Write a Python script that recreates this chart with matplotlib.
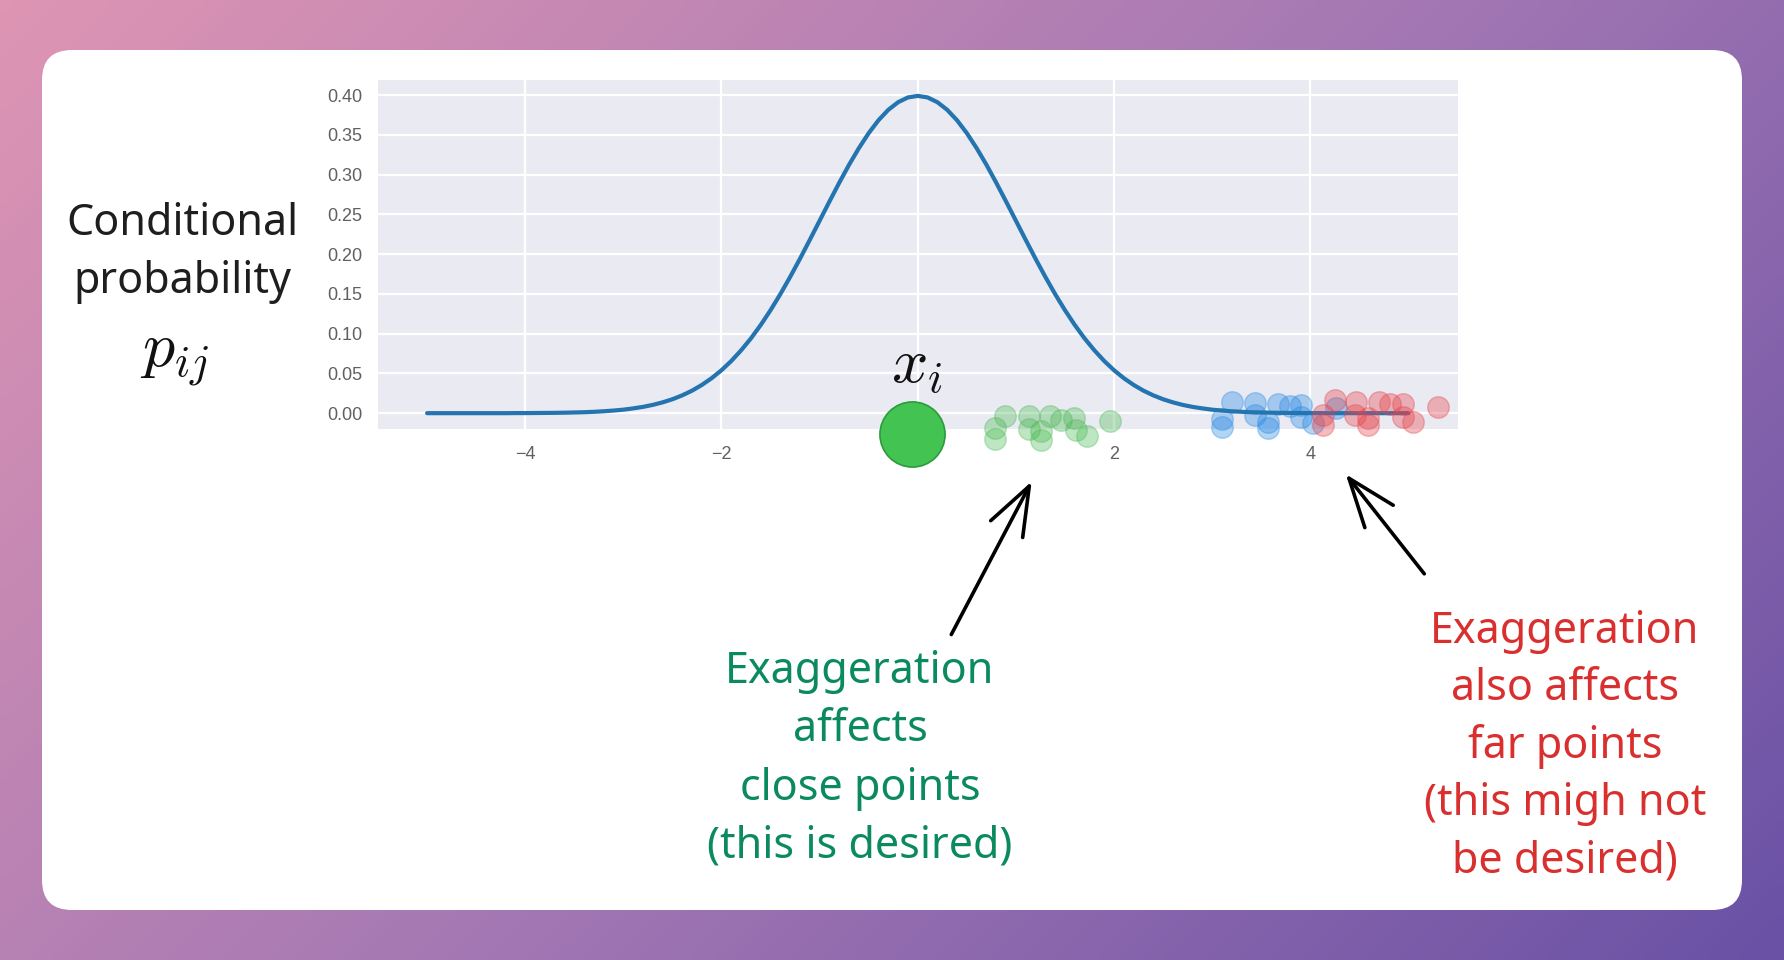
import numpy as np
import matplotlib
matplotlib.use("Agg")
import matplotlib.pyplot as plt
from matplotlib.patches import FancyBboxPatch, FancyArrowPatch
from matplotlib.colors import LinearSegmentedColormap

# ---------------- data ----------------
curve_x = np.linspace(-5, 5, 101)
curve_right = [0.3989, 0.3970, 0.3910, 0.3814, 0.3683, 0.3521, 0.3332, 0.3123, 0.2897, 0.2661,
               0.2420, 0.2179, 0.1942, 0.1714, 0.1497, 0.1295, 0.1109, 0.0940, 0.0790, 0.0656,
               0.0540, 0.0440, 0.0355, 0.0283, 0.0224, 0.0175, 0.0136, 0.0104, 0.0079, 0.0060,
               0.0044, 0.0033, 0.0024, 0.0017, 0.0012, 0.0009, 0.0006, 0.0004, 0.0003, 0.0002,
               0.0001, 0.0001, 0.0000, 0.0000, 0.0000, 0.0000, 0.0000, 0.0000, 0.0000, 0.0000,
               0.0000]
curve_y = curve_right[:0:-1] + curve_right  # symmetric bell, x = -5 ... 5

xi_x, xi_y = -0.06, -0.026

green_x = [0.89, 0.79, 0.79, 1.13, 1.13, 1.26, 1.26, 1.35, 1.46, 1.59, 1.61, 1.72, 1.96]
green_y = [-0.003, -0.019, -0.033, -0.003, -0.020, -0.023, -0.034, -0.004, -0.008, -0.006,
           -0.021, -0.029, -0.010]

blue_x = [3.20, 3.10, 3.10, 3.44, 3.44, 3.57, 3.57, 3.67, 3.79, 3.91, 3.91, 4.03, 4.26]
blue_y = [0.0145, -0.0075, -0.0168, 0.0125, -0.0021, -0.0105, -0.0188, 0.0116, 0.0091,
          0.0104, -0.0043, -0.0125, 0.0063]

red_x = [4.25, 4.13, 4.13, 4.47, 4.46, 4.59, 4.59, 4.70, 4.81, 4.94, 4.94, 5.05, 5.30]
red_y = [0.0166, -0.0021, -0.0146, 0.0145, -0.0021, -0.0063, -0.0146, 0.0137, 0.0116,
         0.0116, -0.0043, -0.0105, 0.0083]

x_ticks = [-4, -2, 0, 2, 4]
y_ticks = [0.00, 0.05, 0.10, 0.15, 0.20, 0.25, 0.30, 0.35, 0.40]

left_lines = ["Conditional", "probability"]
green_lines = ["Exaggeration", "affects", "close points", "(this is desired)"]
red_lines = ["Exaggeration", "also affects", "far points", "(this migh not", "be desired)"]

# ---------------- figure ----------------
W, H = 1784, 960
plt.rcParams["mathtext.fontset"] = "cm"
fig = plt.figure(figsize=(W / 100, H / 100), dpi=100)

# background gradient + card (pixel coordinates)
bg = fig.add_axes([0, 0, 1, 1], zorder=-10)
bg.set_xlim(0, W)
bg.set_ylim(H, 0)
bg.axis("off")
gx, gy = np.meshgrid(np.linspace(0, 1, 400), np.linspace(0, 1, 220))
t = (gx * W + gy * H) / (W + H)
cmap = LinearSegmentedColormap.from_list("bg", ["#de95b3", "#a679b4", "#6a51a5"])
bg.imshow(t, cmap=cmap, extent=[0, W, H, 0], aspect="auto", interpolation="bilinear")
card = FancyBboxPatch((42, 50), 1700, 860, boxstyle="round,pad=0,rounding_size=30",
                      facecolor="white", edgecolor="none")
bg.add_patch(card)

# main chart
ax = fig.add_axes([378 / W, 1 - 429 / H, 1079.5 / W, 349 / H])
ax.set_facecolor("#EAEAF2")
for s in ax.spines.values():
    s.set_visible(False)
ax.set_axisbelow(True)
ax.grid(True, color="white", linewidth=1.6)
ax.set_xlim(-5.5, 5.5)
ax.set_ylim(-0.0199, 0.4189)
ax.set_xticks(x_ticks)
ax.set_xticklabels([f"{v}".replace("-", "\u2212") for v in x_ticks])
ax.set_yticks(y_ticks)
ax.set_yticklabels([f"{v:.2f}" for v in y_ticks])
ax.tick_params(length=0, labelsize=13, labelcolor="#606060")
ax.tick_params(axis="x", pad=12)
ax.tick_params(axis="y", pad=11)
for lab in ax.get_xticklabels() + ax.get_yticklabels():
    lab.set_fontfamily("Liberation Sans")

ax.scatter(blue_x, blue_y, s=240, color="#2a8be6", alpha=0.36, edgecolors="#2a8be6",
           linewidths=1, zorder=1.5, clip_on=False)
ax.plot(curve_x, curve_y, color="#2474b0", linewidth=3.0, zorder=2,
        solid_capstyle="round", solid_joinstyle="round")
ax.scatter(red_x, red_y, s=240, color="#e8434a", alpha=0.36, edgecolors="#e8434a",
           linewidths=1, zorder=3, clip_on=False)
ax.scatter(green_x, green_y, s=240, color="#46b84f", alpha=0.34, edgecolors="#46b84f",
           linewidths=1, zorder=3, clip_on=False)
ax.scatter([xi_x], [xi_y], s=2200, color="#43c352", edgecolors="#2e9a3c",
           linewidths=1.2, zorder=4, clip_on=False)

# overlay for annotations (pixel coordinates)
ov = fig.add_axes([0, 0, 1, 1], zorder=10)
ov.set_xlim(0, W)
ov.set_ylim(H, 0)
ov.axis("off")
ov.patch.set_alpha(0)

hand = ["Noto Sans", "DejaVu Sans"]
for i, line in enumerate(left_lines):
    ov.text(182, 235 + 58 * i, line, ha="center", va="baseline", fontsize=31,
            color="#1e1e1e", family=hand)
ov.text(175, 367, r"$p_{ij}$", ha="center", va="baseline", fontsize=46, color="#111111")
ov.text(917, 383, r"$x_i$", ha="center", va="baseline", fontsize=46, color="#111111")

for i, line in enumerate(green_lines):
    ov.text(860, 683 + 58.3 * i, line, ha="center", va="baseline", fontsize=31,
            color="#0a8a5e", family=hand)
for i, line in enumerate(red_lines):
    ov.text(1565, 643 + 57.3 * i, line, ha="center", va="baseline", fontsize=31,
            color="#d9302f", family=hand)

arrow_kw = dict(arrowstyle="->,head_length=35,head_width=13", mutation_scale=1,
                color="black", linewidth=2.6, capstyle="round", joinstyle="round")
ov.add_patch(FancyArrowPatch((950, 637), (1033, 479), **arrow_kw))
ov.add_patch(FancyArrowPatch((1426, 576), (1344, 472), **arrow_kw))

fig.savefig("out.png", dpi=100)
